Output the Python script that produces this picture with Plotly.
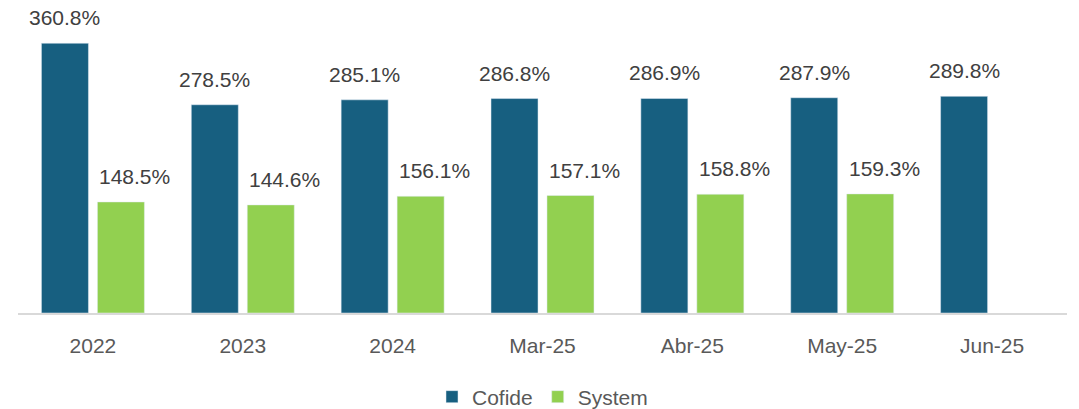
import plotly.graph_objects as go

categories = ["2022", "2023", "2024", "Mar-25", "Abr-25", "May-25", "Jun-25"]
cofide = [360.8, 278.5, 285.1, 286.8, 286.9, 287.9, 289.8]
system = [148.5, 144.6, 156.1, 157.1, 158.8, 159.3, None]

C_COFIDE = "#175F80"
C_SYSTEM = "#92D050"
FONT = "Liberation Sans, Arial, sans-serif"
FS = 21

fig = go.Figure()
fig.add_trace(go.Bar(name="Cofide", x=categories, y=cofide, marker_color=C_COFIDE))
fig.add_trace(go.Bar(name="System", x=categories, y=system, marker_color=C_SYSTEM))

annotations = []
for series, shift in ((cofide, -28), (system, 42)):
    for i, v in enumerate(series):
        if v is None:
            continue
        annotations.append(dict(
            x=i, y=v, xref="x", yref="y", text=f"{v:.1f}%", showarrow=False,
            xshift=shift, yshift=12, yanchor="bottom",
            font=dict(family=FONT, size=FS, color="#404040"),
        ))

fig.update_layout(
    width=1079, height=409,
    margin=dict(l=17.5, r=11.5, t=0, b=95.7, autoexpand=False),
    paper_bgcolor="white", plot_bgcolor="white",
    barmode="group", bargap=0.253, bargroupgap=0.16,
    font=dict(family=FONT, color="#595959"),
    annotations=annotations,
    showlegend=True,
    legend=dict(orientation="h", x=0.5, xanchor="center",
                yref="container", y=1 - 397 / 409, yanchor="middle",
                font=dict(family=FONT, size=FS, color="#595959"),
                itemwidth=30, traceorder="normal"),
    xaxis=dict(type="category", categoryorder="array", categoryarray=categories,
               range=[-0.5, len(categories) - 0.5], automargin=False,
               showline=True, linecolor="#D9D9D9", linewidth=1.5, showgrid=False,
               tickfont=dict(family=FONT, size=FS, color="#595959"),
               ticks="", ticklabelstandoff=13),
    yaxis=dict(range=[0, 418.6], visible=False, showgrid=False, zeroline=False),
)

fig.write_html("out.html", config={"displayModeBar": False},
               post_script="document.body.style.margin='0';document.body.style.overflow='hidden';")
